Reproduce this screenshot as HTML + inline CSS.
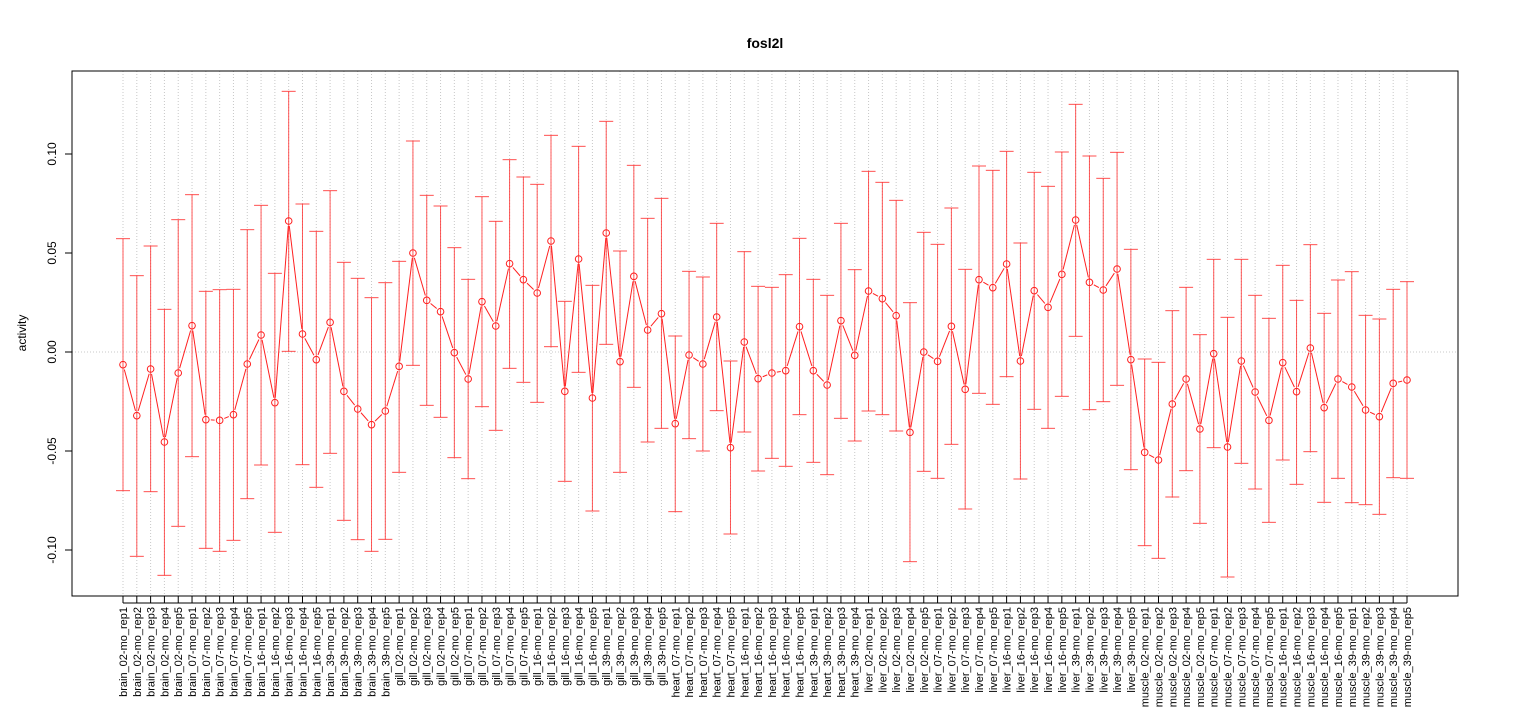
<!DOCTYPE html>
<html><head><meta charset="utf-8"><style>
html,body{margin:0;padding:0;background:#fff}
svg{display:block;font-family:"Liberation Sans",sans-serif}
</style></head><body>
<svg id="s" width="1530" height="720" viewBox="0 0 1530 720" xmlns="http://www.w3.org/2000/svg">
<rect width="1530" height="720" fill="#fff"/>
<text x="765" y="48" font-size="14" font-weight="bold" text-anchor="middle">fosl2l</text>
<text transform="translate(26,333) rotate(-90)" font-size="12" text-anchor="middle">activity</text>
<g id="grid"></g>
<g id="data"></g>
<rect x="72" y="71" width="1386" height="525" fill="none" stroke="#000" stroke-width="1"/>
<g id="yax" font-size="12" text-anchor="middle">
<text transform="translate(56,154) rotate(-90)">0.10</text>
<text transform="translate(56,253) rotate(-90)">0.05</text>
<text transform="translate(56,352) rotate(-90)">0.00</text>
<text transform="translate(56,451) rotate(-90)">-0.05</text>
<text transform="translate(56,550) rotate(-90)">-0.10</text>
</g>
<g id="lab" font-size="11" text-anchor="end">
<text>brain_02-mo_rep1</text><text>brain_02-mo_rep2</text><text>brain_02-mo_rep3</text><text>brain_02-mo_rep4</text><text>brain_02-mo_rep5</text>
<text>brain_07-mo_rep1</text><text>brain_07-mo_rep2</text><text>brain_07-mo_rep3</text><text>brain_07-mo_rep4</text><text>brain_07-mo_rep5</text>
<text>brain_16-mo_rep1</text><text>brain_16-mo_rep2</text><text>brain_16-mo_rep3</text><text>brain_16-mo_rep4</text><text>brain_16-mo_rep5</text>
<text>brain_39-mo_rep1</text><text>brain_39-mo_rep2</text><text>brain_39-mo_rep3</text><text>brain_39-mo_rep4</text><text>brain_39-mo_rep5</text>
<text>gill_02-mo_rep1</text><text>gill_02-mo_rep2</text><text>gill_02-mo_rep3</text><text>gill_02-mo_rep4</text><text>gill_02-mo_rep5</text>
<text>gill_07-mo_rep1</text><text>gill_07-mo_rep2</text><text>gill_07-mo_rep3</text><text>gill_07-mo_rep4</text><text>gill_07-mo_rep5</text>
<text>gill_16-mo_rep1</text><text>gill_16-mo_rep2</text><text>gill_16-mo_rep3</text><text>gill_16-mo_rep4</text><text>gill_16-mo_rep5</text>
<text>gill_39-mo_rep1</text><text>gill_39-mo_rep2</text><text>gill_39-mo_rep3</text><text>gill_39-mo_rep4</text><text>gill_39-mo_rep5</text>
<text>heart_07-mo_rep1</text><text>heart_07-mo_rep2</text><text>heart_07-mo_rep3</text><text>heart_07-mo_rep4</text><text>heart_07-mo_rep5</text>
<text>heart_16-mo_rep1</text><text>heart_16-mo_rep2</text><text>heart_16-mo_rep3</text><text>heart_16-mo_rep4</text><text>heart_16-mo_rep5</text>
<text>heart_39-mo_rep1</text><text>heart_39-mo_rep2</text><text>heart_39-mo_rep3</text><text>heart_39-mo_rep4</text>
<text>liver_02-mo_rep1</text><text>liver_02-mo_rep2</text><text>liver_02-mo_rep3</text><text>liver_02-mo_rep4</text><text>liver_02-mo_rep5</text>
<text>liver_07-mo_rep1</text><text>liver_07-mo_rep2</text><text>liver_07-mo_rep3</text><text>liver_07-mo_rep4</text><text>liver_07-mo_rep5</text>
<text>liver_16-mo_rep1</text><text>liver_16-mo_rep2</text><text>liver_16-mo_rep3</text><text>liver_16-mo_rep4</text><text>liver_16-mo_rep5</text>
<text>liver_39-mo_rep1</text><text>liver_39-mo_rep2</text><text>liver_39-mo_rep3</text><text>liver_39-mo_rep4</text><text>liver_39-mo_rep5</text>
<text>muscle_02-mo_rep1</text><text>muscle_02-mo_rep2</text><text>muscle_02-mo_rep3</text><text>muscle_02-mo_rep4</text><text>muscle_02-mo_rep5</text>
<text>muscle_07-mo_rep1</text><text>muscle_07-mo_rep2</text><text>muscle_07-mo_rep3</text><text>muscle_07-mo_rep4</text><text>muscle_07-mo_rep5</text>
<text>muscle_16-mo_rep1</text><text>muscle_16-mo_rep2</text><text>muscle_16-mo_rep3</text><text>muscle_16-mo_rep4</text><text>muscle_16-mo_rep5</text>
<text>muscle_39-mo_rep1</text><text>muscle_39-mo_rep2</text><text>muscle_39-mo_rep3</text><text>muscle_39-mo_rep4</text><text>muscle_39-mo_rep5</text>
</g>
</svg>
<script>
var NS="http://www.w3.org/2000/svg";
function el(p,n,a){var e=document.createElementNS(NS,n);for(var k in a)e.setAttribute(k,a[k]);p.appendChild(e);return e;}
// raw zoom coords (3x, y offset 80): [center, top, bottom]
var z1=[[854,476,1232],[1007,587,1429],[867,498,1235],[1086,688,1486],[879,419,1339],[737,344,1130],[1019,634,1405],[1021,629,1414],[1004,628,1381],[852,449,1256],[765,376,1155],[968,580,1357],[423,34,814],[762,372,1154],[839,454,1222],[727,332,1120],[934,547,1321],[987,595,1379],[1034,653,1414],[993,608,1378],[859,544,1177],[519,183,856],[661,346,976]];
var z4=[[695,378,1012],[818,503,1133],[897,598,1196],[665,350,980],[738,424,1051],[551,239,865],[599,291,907],[639,313,967],[483,166,800],[934,664,1204],[537,199,877],[954,616,1293],[459,124,793],[845,513,1177],[589,256,922],[750,415,1086],[701,355,1045],[1031,768,1295],[825,574,1076],[852,591,1113],[711,430,992],[1103,843,1362],[786,515,1056],[896,619,1173]];
var z5=[[879,622,1135],[872,584,1159],[740,475,1004],[872,598,1147],[915,646,1184],[722,430,1015],[826,569,1083],[633,274,993],[656,307,1004],[707,361,1053],[1057,668,1445],[816,457,1174],[844,493,1195],[739,384,1093],[928,568,1287],[599,258,940],[623,271,973],[552,214,890],[843,489,1197],[632,277,988],[682,319,1045],[583,216,949],[420,73,769],[607,228,989]];
var z6=[[630,295,965],[567,217,916],[839,508,1169],[1117,837,1397],[1140,847,1435],[972,692,1251],[897,622,1172],[1047,764,1330],[821,538,1103],[1101,712,1491],[843,538,1150],[936,646,1227],[1021,715,1327],[848,556,1140],[935,661,1213],[804,494,1115],[983,700,1267],[897,600,1195],[921,575,1268],[990,706,1274],[1010,717,1303],[910,628,1193],[900,605,1195]];
var D=z1.concat(z4,z5,z6);
var N=D.length, s=document.getElementById('s');
var grid=document.getElementById('grid'), data=document.getElementById('data');
function X(i){return 123+i*(1407-123)/93;}
function Y(v){return 80+v/3;}
// grids
el(grid,'line',{x1:72,x2:1458,y1:352,y2:352,stroke:'#c8c8c8','stroke-dasharray':'1,2'});
for(var i=0;i<N;i++){var x=X(i);
 el(grid,'line',{x1:x,x2:x,y1:71,y2:596,stroke:'#c8c8c8','stroke-dasharray':'1,2'});
 el(s,'line',{x1:x,x2:x,y1:596,y2:603,stroke:'#000'});}
[154,253,352,451,550].forEach(function(y){el(s,'line',{x1:65,x2:72,y1:y,y2:y,stroke:'#000'});});
el(s,'line',{x1:72,x2:72,y1:154,y2:550,stroke:'#000'});
el(s,'line',{x1:123,x2:1407,y1:603,y2:603,stroke:'#000'});
// error bars
for(var i=0;i<N;i++){var x=X(i),t=Y(D[i][1]),b=Y(D[i][2]);
 el(data,'line',{x1:x,x2:x,y1:t,y2:b,stroke:'#ff3030','stroke-opacity':0.8});
 el(data,'line',{x1:x-7,x2:x+7,y1:t,y2:t,stroke:'#ff3030','stroke-opacity':0.85});
 el(data,'line',{x1:x-7,x2:x+7,y1:b,y2:b,stroke:'#ff3030','stroke-opacity':0.85});}
// connecting lines with gaps
for(var i=0;i<N-1;i++){var x1=X(i),y1=Y(D[i][0]),x2=X(i+1),y2=Y(D[i+1][0]);
 var dx=x2-x1,dy=y2-y1,L=Math.sqrt(dx*dx+dy*dy),g=5;
 if(L>2*g) el(data,'line',{x1:x1+dx*g/L,y1:y1+dy*g/L,x2:x2-dx*g/L,y2:y2-dy*g/L,stroke:'#ff2020'});}
for(var i=0;i<N;i++) el(data,'circle',{cx:X(i),cy:Y(D[i][0]),r:3.3,fill:'none',stroke:'#ff2020'});
// labels
var labs=document.getElementById('lab').children;
for(var i=0;i<labs.length;i++) labs[i].setAttribute('transform','translate('+(X(i)+4)+',607) rotate(-90)');
</script>
</body></html>
